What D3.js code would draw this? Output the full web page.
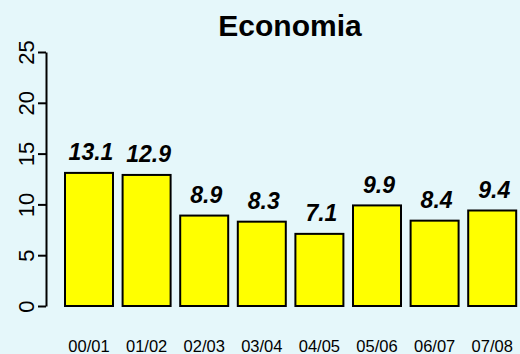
<!DOCTYPE html>
<html>
<head>
<meta charset="utf-8">
<script src="https://cdn.jsdelivr.net/npm/d3@7"></script>
<style>
html, body { margin: 0; padding: 0; background: #e5f7fa; }
svg { display: block; }
</style>
</head>
<body>
<script>
const categories = ["00/01", "01/02", "02/03", "03/04", "04/05", "05/06", "06/07", "07/08"];
const values = [13.1, 12.9, 8.9, 8.3, 7.1, 9.9, 8.4, 9.4];
const valueLabels = ["13.1", "12.9", "8.9", "8.3", "7.1", "9.9", "8.4", "9.4"];
const yTicks = [0, 5, 10, 15, 20, 25];
const title = "Economia";

const W = 520, H = 354;
const font = "'Liberation Sans', Arial, Helvetica, sans-serif";

const svg = d3.select("body").append("svg")
  .attr("width", W).attr("height", H)
  .style("background", "#e5f7fa");

const x = d3.scaleBand()
  .domain(categories)
  .range([60.2, 521])
  .paddingInner(1 / 6)
  .paddingOuter(1 / 12);

const y = d3.scaleLinear().domain([0, 25]).range([306, 52]);

// bars
svg.append("g").selectAll("rect")
  .data(categories)
  .join("rect")
  .attr("x", d => x(d))
  .attr("y", (d, i) => y(values[i]))
  .attr("width", x.bandwidth())
  .attr("height", (d, i) => y(0) - y(values[i]))
  .attr("fill", "#ffff00")
  .attr("stroke", "#000")
  .attr("stroke-width", 2);

// value labels
svg.append("g").selectAll("text")
  .data(categories)
  .join("text")
  .attr("x", d => x(d) + x.bandwidth() / 2 + 2)
  .attr("y", (d, i) => y(values[i]) - 12.5)
  .attr("text-anchor", "middle")
  .attr("font-family", font)
  .attr("font-weight", "bold")
  .attr("font-style", "italic")
  .attr("font-size", 23)
  .attr("fill", "#000")
  .text((d, i) => valueLabels[i]);

// y axis
const yAxis = svg.append("g")
  .attr("transform", "translate(46,0)")
  .call(d3.axisLeft(y).tickValues(yTicks).tickSize(8).tickSizeOuter(0).tickPadding(0));
yAxis.select(".domain").attr("stroke", "#000").attr("stroke-width", 2);
yAxis.selectAll(".tick line").attr("stroke", "#000").attr("stroke-width", 2);
yAxis.selectAll(".tick text")
  .attr("font-family", font)
  .attr("font-size", 22)
  .attr("fill", "#000")
  .attr("x", null).attr("dy", null)
  .attr("text-anchor", "middle")
  .attr("transform", "translate(-12.5,0) rotate(-90)");

// x axis labels
const xAxis = svg.append("g")
  .attr("transform", "translate(0,351.5)")
  .call(d3.axisBottom(x).tickSize(0).tickPadding(0));
xAxis.select(".domain").remove();
xAxis.selectAll(".tick text")
  .attr("font-family", font)
  .attr("font-size", 16.5)
  .attr("fill", "#000")
  .attr("dy", null)
  .attr("y", 0);

// title
svg.append("text")
  .attr("x", 290)
  .attr("y", 36)
  .attr("text-anchor", "middle")
  .attr("font-family", font)
  .attr("font-weight", "bold")
  .attr("font-size", 30)
  .attr("fill", "#000")
  .text(title);
</script>
</body>
</html>
